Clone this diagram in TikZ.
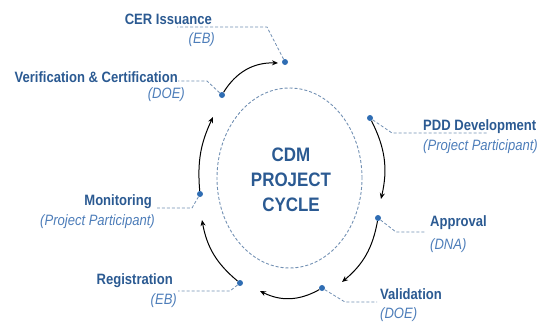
\documentclass[tikz,border=0pt]{standalone}
\usepackage{fontspec}
\setmainfont{Liberation Sans}[FakeStretch=0.87]
\usetikzlibrary{arrows.meta,shapes.geometric}
\definecolor{titleblue}{HTML}{2B5A92}
\definecolor{roleblue}{HTML}{4D7DB9}
\definecolor{dotblue}{HTML}{2F6DB3}
\definecolor{dashc}{HTML}{7290B3}
\begin{document}
\begin{tikzpicture}[x=1pt,y=1pt,
 lname/.style={font=\fontsize{15}{18}\selectfont\bfseries, text=titleblue, inner sep=0},
 lrole/.style={font=\fontsize{15}{18}\selectfont\itshape, text=roleblue, inner sep=0},
 dotnode/.style={circle, fill=dotblue, inner sep=0, minimum size=6},
 lead/.style={draw=dashc, dash pattern=on 3pt off 2pt, line width=0.8pt},
 flow/.style={draw=black, line width=1pt, -{Stealth[length=6pt,width=5pt]}, bend left=20},
]
\useasboundingbox (0,0) rectangle (539,-322);
% central cycle
\node[ellipse, draw=dashc, dash pattern=on 3pt off 2pt, line width=0.9pt,
      minimum width=145, minimum height=180, inner sep=0] (cyc) at (289.5,-178) {};
\node[font=\fontsize{19.5}{25}\selectfont\bfseries, text=titleblue, align=center, inner sep=0]
      (title) at (291,-180) {CDM\\PROJECT\\CYCLE};
% dots
\node[dotnode] (cer) at (285,-62) {};
\node[dotnode] (ver) at (222,-95) {};
\node[dotnode] (pdd) at (370,-118) {};
\node[dotnode] (app) at (378,-218) {};
\node[dotnode] (val) at (322,-288) {};
\node[dotnode] (reg) at (240,-283) {};
\node[dotnode] (mon) at (200,-194) {};
% arrow ends
\coordinate (e1) at (278,-63);
\coordinate (e2) at (381,-199);
\coordinate (e3) at (342,-282);
\coordinate (e4) at (260,-291);
\coordinate (e5) at (202,-220);
\coordinate (e6) at (213,-117);
\draw[flow, bend left=30] (ver) to (e1);
\draw[flow] (pdd) to (e2);
\draw[flow] (app) to (e3);
\draw[flow, bend left=28] (val) to (e4);
\draw[flow] (reg) to (e5);
\draw[flow, bend left=15] (mon) to (e6);
% labels
\node[lname, anchor=base east] (tcer) at (212,-24) {CER Issuance};
\node[lrole, anchor=base east] (rcer) at (215,-43) {(EB)};
\node[lname, anchor=base east] (tver) at (178,-82) {Verification \& Certification};
\node[lrole, anchor=base east] (rver) at (185,-98) {(DOE)};
\node[lname, anchor=base west] (tpdd) at (423,-130) {PDD Development};
\node[lrole, anchor=base west] (rpdd) at (423,-150) {(Project Participant)};
\node[lname, anchor=base west] (tapp) at (430,-226) {Approval};
\node[lrole, anchor=base west] (rapp) at (430,-249) {(DNA)};
\node[lname, anchor=base west] (tval) at (380,-299) {Validation};
\node[lrole, anchor=base west] (rval) at (380,-318) {(DOE)};
\node[lname, anchor=base east] (treg) at (173,-284) {Registration};
\node[lrole, anchor=base east] (rreg) at (177,-304) {(EB)};
\node[lname, anchor=base east] (tmon) at (152,-205) {Monitoring};
\node[lrole, anchor=base east] (rmon) at (155,-225) {(Project Participant)};
% leaders
\coordinate (l1) at (177,-27);
\coordinate (l2) at (178,-81);
\coordinate (l3) at (487,-133);
\coordinate (l4) at (426,-232);
\coordinate (l5) at (377,-302);
\coordinate (l6) at (178,-291);
\coordinate (l7) at (157,-208);
\draw[lead] (cer) -- (267,-27) -- (l1);
\draw[lead] (ver) -- (207,-81) -- (l2);
\draw[lead] (pdd) -- (392,-133) -- (l3);
\draw[lead] (app) -- (396,-232) -- (l4);
\draw[lead] (val) -- (345,-302) -- (l5);
\draw[lead] (reg) -- (230,-291) -- (l6);
\draw[lead] (mon) -- (192,-208) -- (l7);
\end{tikzpicture}
\end{document}
